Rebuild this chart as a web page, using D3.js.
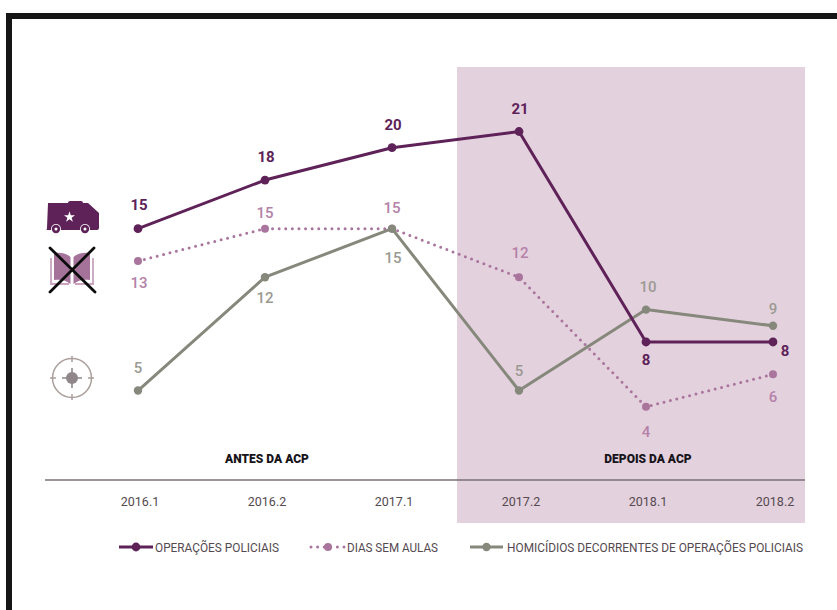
<!DOCTYPE html>
<html>
<head>
<meta charset="utf-8">
<script src="https://cdn.jsdelivr.net/npm/d3@7"></script>
<style>
  html, body { margin: 0; background: #fff; }
  svg { display: block; }
  text { font-family: "Roboto", "Liberation Sans", sans-serif; }
</style>
</head>
<body>
<svg id="chart" width="837" height="610"></svg>
<script>
const periods = ["2016.1", "2016.2", "2017.1", "2017.2", "2018.1", "2018.2"];
const operacoes = [15, 18, 20, 21, 8, 8];
const diasSemAulas = [13, 15, 15, 12, 4, 6];
const homicidios = [5, 12, 15, 5, 10, 9];
const phaseLabels = ["ANTES DA ACP", "DEPOIS DA ACP"];
const legendLabels = ["OPERAÇÕES POLICIAIS", "DIAS SEM AULAS", "HOMICÍDIOS DECORRENTES DE OPERAÇÕES POLICIAIS"];

const svg = d3.select("#chart");
const x = d3.scalePoint().domain(periods).range([138, 773]);
const y = d3.scaleLinear().domain([0, 21]).range([471.5, 131.5]);

// Page frame: heavy rule along the top and left edge only
svg.append("rect").attr("x", 6).attr("y", 13).attr("width", 831).attr("height", 6).attr("fill", "#151515");
svg.append("rect").attr("x", 6).attr("y", 13).attr("width", 6).attr("height", 597).attr("fill", "#151515");

// Shaded period after the ACP
svg.append("rect").attr("x", 457).attr("y", 67).attr("width", 348).attr("height", 456).attr("fill", "#e4d1de");

// Baseline and period ticks
svg.append("line").attr("x1", 45).attr("x2", 805).attr("y1", 480).attr("y2", 480)
  .attr("stroke", "#7a6f74").attr("stroke-width", 1.4);

const axis = svg.append("g").attr("transform", "translate(1.5,480)")
  .call(d3.axisBottom(x).tickSize(0).tickPadding(17));
axis.select(".domain").remove();
axis.selectAll("text").attr("font-size", 12.5).attr("fill", "#54494f")
  .attr("font-family", "Roboto");

// Phase captions
const phaseX = [267, 648];
svg.selectAll(".phase").data(phaseLabels).join("text")
  .attr("class", "phase")
  .attr("x", (d, i) => phaseX[i]).attr("y", 463)
  .attr("text-anchor", "middle").attr("font-size", 12).attr("font-weight", 900)
  .attr("fill", "#17141a")
  .text(d => d);

// Series, drawn back to front
const series = [
  { name: "dias", values: diasSemAulas, color: "#a9759d", label: "#b482a8", width: 3, dash: "0 6.6", r: 4,
    offsets: [[1, 27], [0, -11], [0, -16], [1, -19], [0, 30], [0, 28]] },
  { name: "homicidios", values: homicidios, color: "#87887c", label: "#9b9a92", width: 3, dash: null, r: 4.2,
    offsets: [[0, -18], [0, 26], [1, 34], [0, -15], [2, -18], [0, -12]] },
  { name: "operacoes", values: operacoes, color: "#5e2258", label: "#5e2258", width: 3, dash: null, r: 4.4,
    offsets: [[1, -19], [1, -18], [1, -18], [1, -18], [0, 23], [12, 14]] }
];

const line = d3.line().x((d, i) => x(periods[i])).y(d => y(d));

series.forEach(s => {
  const g = svg.append("g").attr("class", s.name);
  g.append("path").attr("d", line(s.values))
    .attr("fill", "none").attr("stroke", s.color).attr("stroke-width", s.width)
    .attr("stroke-linecap", s.dash ? "round" : "butt")
    .attr("stroke-linejoin", "round")
    .attr("stroke-dasharray", s.dash);
  g.selectAll("circle").data(s.values).join("circle")
    .attr("cx", (d, i) => x(periods[i])).attr("cy", d => y(d))
    .attr("r", s.r).attr("fill", s.color);
  g.selectAll("text").data(s.values).join("text")
    .attr("x", (d, i) => x(periods[i]) + s.offsets[i][0])
    .attr("y", (d, i) => y(d) + s.offsets[i][1])
    .attr("text-anchor", "middle").attr("font-size", 15)
    .attr("font-weight", s.name === "operacoes" ? 700 : 500)
    .attr("fill", s.label)
    .text(d => d);
});

// Legend
const legendItems = [
  { s: series[2], x1: 119, x2: 153, tx: 155, tw: 124 },
  { s: series[0], x1: 311, x2: 345, tx: 347, tw: 91 },
  { s: series[1], x1: 470, x2: 503, tx: 507, tw: 296 }
];
const legend = svg.append("g").attr("transform", "translate(0,547)");
legendItems.forEach((it, i) => {
  legend.append("line").attr("x1", it.x1).attr("x2", it.x2)
    .attr("stroke", it.s.color).attr("stroke-width", it.s.width)
    .attr("stroke-linecap", it.s.dash ? "round" : "butt")
    .attr("stroke-dasharray", it.s.dash);
  legend.append("circle").attr("cx", (it.x1 + it.x2) / 2).attr("r", it.s.r).attr("fill", it.s.color);
  legend.append("text").attr("x", it.tx).attr("y", 4.5)
    .attr("font-size", 13).attr("fill", "#54494f")
    .attr("textLength", it.tw).attr("lengthAdjust", "spacingAndGlyphs")
    .text(legendLabels[i]);
});

// Icon beside the police operations series: armoured vehicle
const truck = svg.append("g").attr("transform", "translate(46,201)").attr("fill", "#5e2258");
truck.append("path").attr("d", "M2,2 H22 V2 Q22,0 24,0 H35 Q37,0 37,2 H42 L53,12 V27 Q53,29 51,29 H1 Q0,29 1,27 Z");
[10, 39].forEach(cx => {
  truck.append("circle").attr("cx", cx).attr("cy", 28).attr("r", 5).attr("fill", "#fff");
  truck.append("circle").attr("cx", cx).attr("cy", 28).attr("r", 4.2);
  truck.append("circle").attr("cx", cx).attr("cy", 28).attr("r", 1.5).attr("fill", "#fff");
});
truck.append("path")
  .attr("transform", "translate(23.5,16)")
  .attr("d", d3.symbol().type(d3.symbolStar).size(38)())
  .attr("fill", "#fff");

// Icon beside the school days series: crossed-out book
const book = svg.append("g").attr("transform", "translate(72,270)");
book.append("path").attr("d", "M-1.5,-13 C-6,-17 -12,-18 -18,-17 V10 C-12,9 -6,10 -1.5,14 Z").attr("fill", "#a5739a");
book.append("path").attr("d", "M1.5,-13 C6,-17 12,-18 18,-17 V10 C12,9 6,10 1.5,14 Z").attr("fill", "#a5739a");
book.append("path").attr("d", "M-21,-12 V14 H-3 M21,-12 V14 H3")
  .attr("fill", "none").attr("stroke", "#c8a4c0").attr("stroke-width", 1.8);
book.append("path").attr("d", "M-22,-22 L23,22 M22,-22 L-22,22")
  .attr("fill", "none").attr("stroke", "#0c0c0c").attr("stroke-width", 2.8).attr("stroke-linecap", "round");

// Icon beside the homicide series: crosshair
const target = svg.append("g").attr("transform", "translate(72,378)");
target.append("circle").attr("r", 19.5).attr("fill", "none").attr("stroke", "#ab9f9c").attr("stroke-width", 1.5);
target.append("path").attr("d", "M0,-22 V-16 M0,16 V22 M-22,0 H-16 M16,0 H22")
  .attr("stroke", "#ab9f9c").attr("stroke-width", 1.5);
target.append("path").attr("d", "M0,-10 V10 M-10,0 H10")
  .attr("stroke", "#8f8789").attr("stroke-width", 1.6);
target.append("circle").attr("r", 6).attr("fill", "#8f8789");
</script>
</body>
</html>
